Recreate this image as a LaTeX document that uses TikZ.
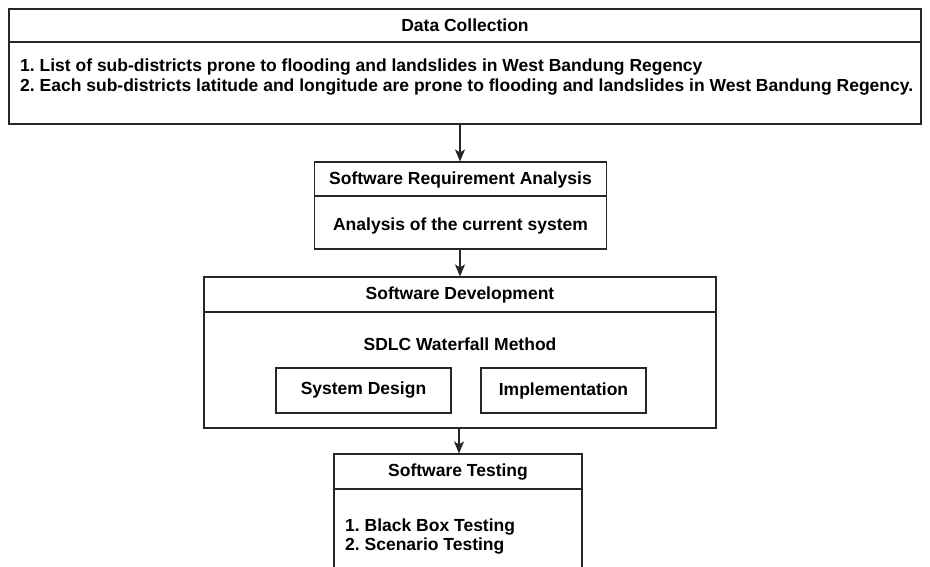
\documentclass[tikz,border=0pt]{standalone}
\usepackage{fontspec}
\setmainfont{Liberation Sans}
\usetikzlibrary{arrows.meta}
\tikzset{
  box/.style={draw=black!85, line width=1.1pt, rectangle, inner sep=0pt},
  txt/.style={inner sep=0pt, font=\fontsize{17.5}{20}\selectfont\bfseries},
  divider/.style={draw=black!85, line width=1.1pt},
  arr/.style={draw=black!85, line width=1.1pt, -{Stealth[length=12pt,width=10pt,inset=3pt]}}
}
\begin{document}
\frenchspacing
\begin{tikzpicture}[x=1pt,y=-1pt]
\useasboundingbox (0,0) rectangle (930,567);
\clip (0,0) rectangle (930,567);
% Data Collection
\node[box, minimum width=912pt, minimum height=115pt] (dc) at (465,66.5) {};
\node[txt] (dct) at (465,25.5) {Data Collection};
\draw[divider] (9,42) -- (921,42);
\node[txt, anchor=west] (dc1) at (20,67) {1. List of sub-districts prone to flooding and landslides in West Bandung Regency};
\node[txt, anchor=west] (dc2) at (20,87) {2. Each sub-districts latitude and longitude are prone to flooding and landslides in West Bandung Regency.};
% Software Requirement Analysis
\node[box, minimum width=292pt, minimum height=87pt] (sra) at (460.5,205.5) {};
\node[txt] (srat) at (460.5,180) {Software Requirement Analysis};
\draw[divider] (314.5,196) -- (606.5,196);
\node[txt] (sra1) at (460.5,226) {Analysis of the current system};
% Software Development
\node[box, minimum width=512pt, minimum height=151pt] (dev) at (460,352.5) {};
\node[txt] (devt) at (460,295) {Software Development};
\draw[divider] (204,312) -- (716,312);
\node[txt] (sdlc) at (460,344) {SDLC Waterfall Method};
\node[box, minimum width=175pt, minimum height=45pt] (sd) at (363.5,390.5) {};
\node[txt] at (sd.center) {System Design};
\node[box, minimum width=165pt, minimum height=45pt] (imp) at (563.5,390.5) {};
\node[txt] at (imp.center) {Implementation};
% Software Testing
\node[box, minimum width=248pt, minimum height=140pt] (st) at (458,524) {};
\node[txt] (stt) at (458,472) {Software Testing};
\draw[divider] (334,489) -- (582,489);
\node[txt, anchor=west] (st1) at (345,527) {1. Black Box Testing};
\node[txt, anchor=west] (st2) at (345,546) {2. Scenario Testing};
% arrows
\draw[arr] (dc.south -| 460,0) -- (sra.north -| 460,0);
\draw[arr] (sra.south -| 460,0) -- (dev.north -| 460,0);
\draw[arr] (dev.south -| 459,0) -- (st.north -| 459,0);
\end{tikzpicture}
\end{document}
